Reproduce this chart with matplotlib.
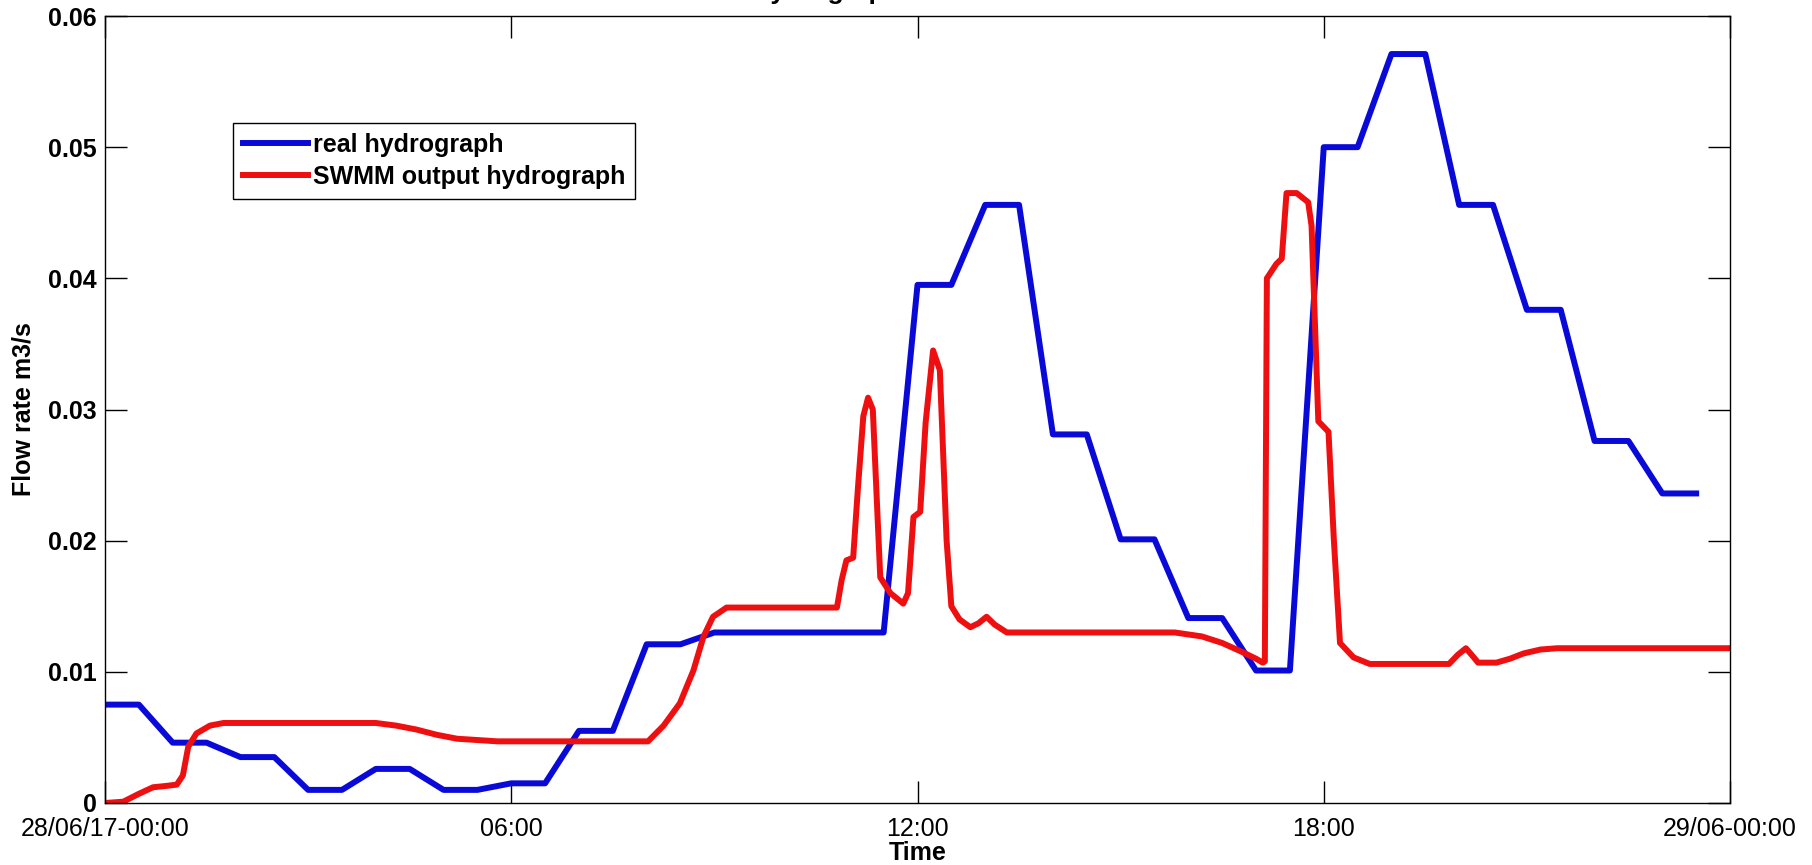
import matplotlib
matplotlib.use('Agg')
import matplotlib.pyplot as plt

plt.rcParams['font.family'] = ['Liberation Sans', 'DejaVu Sans']

# time in hours from 28/06/17 00:00
blue_t = [0, 0.5, 1, 1.5, 2, 2.5, 3, 3.5, 4, 4.5, 5, 5.5, 6, 6.5, 7, 7.5, 8, 8.5, 9,
          11.5, 12, 12.5, 13, 13.5, 14, 14.5, 15, 15.5, 16, 16.5, 17, 17.5, 18, 18.5,
          19, 19.5, 20, 20.5, 21, 21.5, 22, 22.5, 23, 23.5]
blue_q = [0.0075, 0.0075, 0.0046, 0.0046, 0.0035, 0.0035, 0.0010, 0.0010, 0.0026, 0.0026,
          0.0010, 0.0010, 0.0015, 0.0015, 0.0055, 0.0055, 0.0121, 0.0121, 0.0130,
          0.0130, 0.0395, 0.0395, 0.0456, 0.0456, 0.0281, 0.0281, 0.0201, 0.0201,
          0.0141, 0.0141, 0.0101, 0.0101, 0.0500, 0.0500, 0.0571, 0.0571, 0.0456,
          0.0456, 0.0376, 0.0376, 0.0276, 0.0276, 0.0236, 0.0236]

red_t = [0, 0.27, 0.5, 0.71, 0.9, 1.06, 1.15, 1.23, 1.35, 1.55, 1.75, 2.0, 4.0, 4.3,
         4.6, 4.9, 5.2, 5.5, 5.8, 8.02, 8.25, 8.49, 8.69, 8.84, 8.98, 9.18, 9.4,
         10.81, 10.88, 10.95, 11.05, 11.12, 11.2, 11.27, 11.34, 11.4, 11.45, 11.6,
         11.79, 11.86, 11.94, 12.04, 12.12, 12.23, 12.33, 12.43, 12.5, 12.62, 12.78,
         12.9, 13.02, 13.14, 13.32, 15.8, 16.2, 16.5, 16.8, 17.0, 17.1, 17.13, 17.16,
         17.3, 17.38, 17.45, 17.6, 17.77, 17.82, 17.92, 18.07, 18.15, 18.24, 18.44,
         18.68, 19.85, 19.98, 20.1, 20.2, 20.28, 20.55, 20.75, 20.95, 21.2, 21.45, 24.0]
red_q = [0.0000, 0.0001, 0.0007, 0.0012, 0.0013, 0.0014, 0.0021, 0.0043, 0.0053, 0.0059,
         0.0061, 0.0061, 0.0061, 0.0059, 0.0056, 0.0052, 0.0049, 0.0048, 0.0047,
         0.0047, 0.0059, 0.0076, 0.0101, 0.0127, 0.0142, 0.0149, 0.0149,
         0.0149, 0.0170, 0.0185, 0.0187, 0.0240, 0.0295, 0.0309, 0.0300, 0.0230,
         0.0172, 0.0160, 0.0152, 0.0160, 0.0218, 0.0222, 0.0290, 0.0345, 0.0330,
         0.0200, 0.0150, 0.0140, 0.0134, 0.0137, 0.0142, 0.0136, 0.0130, 0.0130,
         0.0127, 0.0122, 0.0115, 0.0110, 0.0107, 0.0108, 0.0400, 0.0411, 0.0415,
         0.0465, 0.0465, 0.0458, 0.0440, 0.0291, 0.0283, 0.0200, 0.0122, 0.0111,
         0.0106, 0.0106, 0.0113, 0.0118, 0.0112, 0.0107, 0.0107, 0.0110, 0.0114,
         0.0117, 0.0118, 0.0118]

x_ticks = [0, 6, 12, 18, 24]
x_labels = ['28/06/17-00:00', '06:00', '12:00', '18:00', '29/06-00:00']
y_ticks = [0, 0.01, 0.02, 0.03, 0.04, 0.05, 0.06]
y_labels = ['0', '0.01', '0.02', '0.03', '0.04', '0.05', '0.06']

fig = plt.figure(figsize=(18.12, 8.65), dpi=100)
ax = fig.add_axes([105 / 1812, 1 - 803 / 865, 1625 / 1812, 787 / 865])

ax.plot(blue_t, blue_q, color='#0a0ad8', lw=4.3, label='real hydrograph')
ax.plot(red_t, red_q, color='#ee1010', lw=4.3, label='SWMM output hydrograph')

ax.set_xlim(0, 24)
ax.set_ylim(0, 0.06)
ax.set_xticks(x_ticks)
ax.set_xticklabels(x_labels, fontsize=18)
ax.set_yticks(y_ticks)
ax.set_yticklabels(y_labels, fontsize=18, fontweight='bold')
ax.tick_params(direction='in', length=16, width=1, top=True, right=True)
ax.tick_params(axis='x', pad=10)
ax.tick_params(axis='y', pad=6)
for s in ax.spines.values():
    s.set_linewidth(1.0)

ax.set_xlabel('Time', fontsize=18, fontweight='bold', labelpad=0)
ax.set_ylabel('Flow rate m3/s', fontsize=18, fontweight='bold')
ax.yaxis.set_label_coords(-0.043, 0.5)

leg = ax.legend(loc='upper left', bbox_to_anchor=(0.0788, 0.864), borderaxespad=0,
                fancybox=False, edgecolor='black', framealpha=1,
                prop={'size': 18, 'weight': 'bold'}, handlelength=2.6,
                handletextpad=0.2, borderpad=0.4, labelspacing=0.3)
leg.get_frame().set_linewidth(1.0)

# title sits above the top edge, only descenders show
fig.text(663 / 1812, 1 + 1 / 865, 'Outfall hydrograph calibration results',
         fontsize=19, fontweight='bold', ha='left', va='baseline')

fig.savefig('out.png', dpi=100)
